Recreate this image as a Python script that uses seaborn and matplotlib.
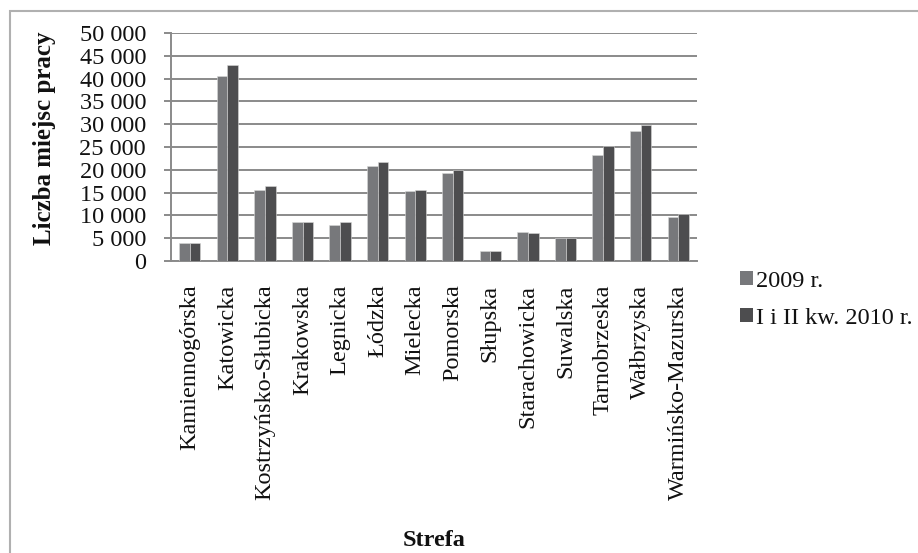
import matplotlib
matplotlib.use('Agg')
import numpy as np
import pandas as pd
import seaborn as sns
import matplotlib.pyplot as plt
from matplotlib.patches import Patch, Rectangle
from matplotlib.ticker import FuncFormatter

# data
strefy = ['Kamiennogórska', 'Katowicka', 'Kostrzyńsko-Słubicka', 'Krakowska',
          'Legnicka', 'Łódzka', 'Mielecka', 'Pomorska', 'Słupska',
          'Starachowicka', 'Suwalska', 'Tarnobrzeska', 'Wałbrzyska',
          'Warmińsko-Mazurska']
v2009 = [4000, 40600, 15500, 8500, 8000, 20800, 15400, 19400, 2300,
         6400, 5000, 23300, 28400, 9700]
v2010 = [4000, 42900, 16500, 8500, 8600, 21700, 15600, 20000, 2200,
         6100, 5000, 25300, 29900, 10200]
serie = ['2009 r.', 'I i II kw. 2010 r.']
kolory = ['#77787b', '#4d4d4f']

df = pd.DataFrame({'Strefa': strefy * 2,
                   'Liczba': v2009 + v2010,
                   'Okres': [serie[0]] * len(strefy) + [serie[1]] * len(strefy)})

sns.set_theme(style='white')
plt.rcParams['font.family'] = ['Liberation Serif', 'DejaVu Serif']

FS = 17.5

fig = plt.figure(figsize=(9.18, 5.53), dpi=100)
ax = fig.add_axes([171/918, 1-261/553, (697-171)/918, (261-33)/553])

sns.barplot(data=df, x='Strefa', y='Liczba', hue='Okres', palette=kolory,
            width=0.57, gap=0.0, edgecolor='#d8d8d8', linewidth=0.4,
            legend=False, ax=ax, zorder=3)

ax.set_ylim(0, 50000)
ax.set_yticks(np.arange(0, 50001, 5000))
ax.yaxis.set_major_formatter(FuncFormatter(lambda v, p: '{:,}'.format(int(v)).replace(',', ' ')))
ax.set_xlim(-0.5, len(strefy) - 0.5)
ax.grid(axis='y', color='#8a8a8a', linewidth=1.4, zorder=0)
ax.set_axisbelow(True)
for s in ['top', 'right']:
  ax.spines[s].set_visible(False)
for s in ['left', 'bottom']:
  ax.spines[s].set_color('#8a8a8a')
  ax.spines[s].set_linewidth(1.4)

ax.tick_params(axis='y', which='major', length=5, width=1.4, color='#8a8a8a',
               left=True, labelsize=FS, pad=13, labelcolor='#111111')
ax.tick_params(axis='x', length=0, labelsize=FS, pad=17, labelcolor='#111111')
plt.setp(ax.get_xticklabels(), rotation=90)

ax.set_xlabel('')
ax.set_ylabel('')
fig.text(45/918, 1-138/553, 'Liczba miejsc pracy', rotation=90, ha='center', va='center',
         fontsize=18, fontweight='bold', color='#111111')
fig.text(434/918, 1-540/553, 'Strefa', ha='center', va='center',
         fontsize=FS, fontweight='bold', color='#111111')

uchwyty = [Patch(facecolor=k, edgecolor='none') for k in kolory]
fig.legend(uchwyty, serie, loc='upper left', bbox_to_anchor=(730/918, 1-261/553),
           frameon=False, fontsize=FS, handlelength=0.53, handleheight=0.53,
           handletextpad=0.16, labelspacing=0.65, borderaxespad=0,
           labelcolor='#111111')

# light frame around the chart
fig.patches.append(Rectangle((10/918, -0.1), 1.0, 1-11/553+0.1, transform=fig.transFigure,
                             fill=False, edgecolor='#b0b0b0', linewidth=1.5))

fig.savefig('out.png', dpi=100)
